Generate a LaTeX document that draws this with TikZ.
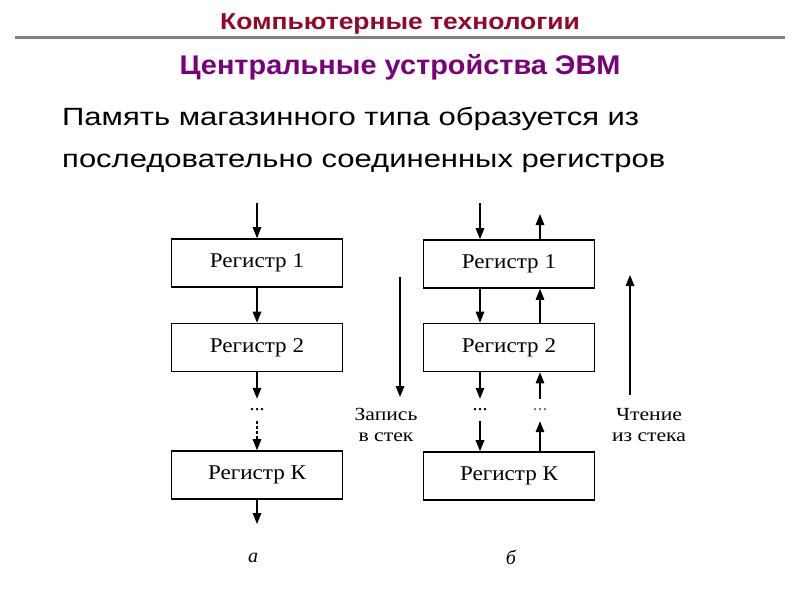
\documentclass[tikz,border=0pt]{standalone}
\usepackage{fontspec}
\setmainfont{Liberation Sans}
\newfontfamily\serifru{Liberation Serif}
\usetikzlibrary{arrows.meta}
\definecolor{titlered}{RGB}{145,8,40}
\definecolor{subpurple}{RGB}{120,0,120}
\definecolor{rulegray}{RGB}{128,128,128}
\newcommand\hstretch[2]{\scalebox{#1}[1]{#2}}
\begin{document}
\begin{tikzpicture}[x=1pt,y=-1pt,
  reg/.style={draw, line width=1.6pt, minimum width=171pt, minimum height=48pt, inner sep=0pt, font=\serifru\fontsize{21}{23}\selectfont},
  arr/.style={line width=1.5pt, -{Triangle[length=11pt,width=8.5pt]}},
  dotsn/.style={inner sep=0pt, minimum height=22pt, font=\serifru\fontsize{20}{20}\selectfont},
  lbl/.style={align=center, inner sep=0pt, font=\serifru\fontsize{18.5}{20.5}\selectfont},
  sub/.style={inner sep=0pt, font=\serifru\itshape\fontsize{20}{22}\selectfont}]
\useasboundingbox (0,0) rectangle (800,600);
% header
\node[anchor=base, inner sep=0pt, font=\bfseries\fontsize{23}{26}\selectfont, text=titlered] (title) at (400,29) {\hstretch{1.15}{Компьютерные технологии}};
\draw[rulegray, line width=3pt] (15,37) -- (785,37);
\node[anchor=base, inner sep=0pt, font=\bfseries\fontsize{27}{30}\selectfont, text=subpurple] (subtitle) at (400,74) {\hstretch{1.07}{Центральные устройства ЭВМ}};
\node[anchor=base west, inner sep=0pt, font=\fontsize{25}{28}\selectfont] (body1) at (62,125.5) {\hstretch{1.24}{Память магазинного типа образуется из}};
\node[anchor=base west, inner sep=0pt, font=\fontsize{25}{28}\selectfont] (body2) at (62,167.5) {\hstretch{1.24}{последовательно соединенных регистров}};
% column a
\node[reg] (a1) at (257,263) {\hstretch{1.1}{Регистр 1}};
\node[reg] (a2) at (257,347.5) {\hstretch{1.1}{Регистр 2}};
\node[reg] (aK) at (257,475) {\hstretch{1.1}{Регистр К}};
\node[dotsn] (ad) at (257,410) {...};
\coordinate (ain) at (257,203);
\coordinate (aout) at (257,524);
\draw[arr] (ain) -- (a1);
\draw[arr] (a1) -- (a2);
\draw[arr] (a2) -- (ad.north);
\draw[arr, dash pattern=on 3pt off 2pt] (ad.south) -- (aK);
\draw[arr] (aK) -- (aout);
% column b
\node[reg] (b1) at (509,264) {\hstretch{1.1}{Регистр 1}};
\node[reg] (b2) at (509,347.5) {\hstretch{1.1}{Регистр 2}};
\node[reg] (bK) at (509,476) {\hstretch{1.1}{Регистр К}};
\node[dotsn] (bdl) at (480,410) {...};
\node[dotsn, text=black!55] (bdr) at (540,410) {...};
\coordinate (bin) at (480,203);
\coordinate (bout) at (540,214);
\draw[arr] (bin) -- (bin |- b1.north);
\draw[arr] (bout |- b1.north) -- (bout);
\draw[arr] (b1.south -| bin) -- (b2.north -| bin);
\draw[arr] (b2.north -| bout) -- (b1.south -| bout);
\draw[arr] (b2.south -| bin) -- (bdl.north);
\draw[arr] (bdr.north) -- (b2.south -| bout);
\draw[arr] (bdl.south) -- (bK.north -| bin);
\draw[arr] (bK.north -| bout) -- (bdr.south);
% big arrows
\coordinate (ws) at (400,277);
\coordinate (we) at (400,397);
\draw[arr] (ws) -- (we);
\node[lbl] (wl) at (386,425) {\hstretch{1.17}{Запись}\\\hstretch{1.17}{в стек}};
\coordinate (rs) at (630,395);
\coordinate (re) at (630,275);
\draw[arr] (rs) -- (re);
\node[lbl] (rl) at (649,425) {\hstretch{1.17}{Чтение}\\\hstretch{1.17}{из стека}};
% sublabels
\node[sub] (la) at (253,558) {а};
\node[sub] (lb) at (511,557) {б};
\end{tikzpicture}
\end{document}
